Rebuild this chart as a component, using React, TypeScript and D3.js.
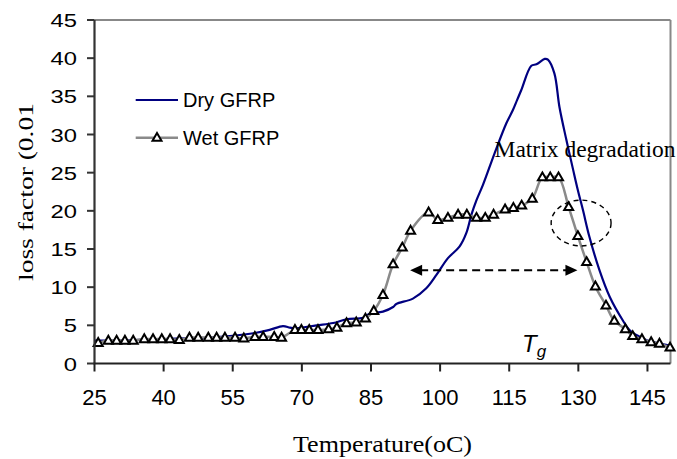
import React from "react";
import * as d3 from "d3";

const xTicks = [25, 40, 55, 70, 85, 100, 115, 130, 145];
const yTicks = [0, 5, 10, 15, 20, 25, 30, 35, 40, 45];

const dryX = [25, 30, 35, 40, 45, 50, 54.4, 59.8, 63.0, 65.9, 67.4, 68.5, 73.2, 76.8, 79.7, 83.3, 84.7, 87.6, 89.8, 90.5, 94.1, 97.0, 99.2, 101.7, 104.2, 105.7, 106.8, 107.9, 109.3, 111.8, 114.4, 115.8, 116.7, 117.6, 119.8, 120.9, 122.7, 123.4, 124.8, 125.9, 127.4, 128.9, 129.9, 131.0, 132.4, 134.6, 136.8, 139.6, 141.1, 143, 145, 147, 150];
const dryY = [3.0, 3.0, 3.1, 3.2, 3.3, 3.4, 3.6, 4.0, 4.4, 4.9, 4.7, 4.6, 5.0, 5.3, 5.8, 6.0, 6.5, 6.8, 7.4, 7.8, 8.5, 9.85, 11.6, 13.8, 15.3, 17.1, 19.5, 21.4, 23.4, 27.5, 31.5, 33.2, 34.5, 35.8, 39.0, 39.2, 39.9, 39.8, 38.0, 33.6, 29.3, 25.3, 22.7, 20.1, 16.6, 12.2, 8.75, 5.7, 4.4, 3.6, 3.0, 2.7, 2.3];

const wetX = [25.8, 28.0, 29.8, 31.6, 33.4, 35.8, 37.7, 39.6, 41.4, 43.4, 45.6, 47.5, 49.7, 51.5, 53.3, 55.5, 57.4, 59.8, 61.6, 64.0, 65.6, 68.5, 69.9, 71.6, 73.5, 75.8, 77.6, 79.7, 81.8, 83.8, 85.6, 87.6, 89.8, 91.8, 93.6, 97.5, 99.5, 101.7, 103.9, 105.8, 107.9, 109.8, 111.6, 114.1, 115.9, 117.7, 120.0, 122.2, 123.9, 125.7, 127.9, 129.9, 131.8, 133.7, 136.0, 137.8, 140.2, 141.8, 143.8, 145.8, 147.6, 149.9];
const wetY = [2.7, 3.0, 3.0, 3.0, 3.0, 3.2, 3.2, 3.2, 3.2, 3.1, 3.4, 3.4, 3.4, 3.4, 3.4, 3.4, 3.3, 3.5, 3.5, 3.5, 3.4, 4.4, 4.4, 4.4, 4.4, 4.5, 4.7, 5.3, 5.4, 5.9, 6.9, 9.0, 13.0, 15.2, 17.4, 19.8, 18.8, 19.1, 19.5, 19.5, 19.1, 19.1, 19.5, 20.2, 20.4, 20.7, 21.6, 24.4, 24.4, 24.4, 20.5, 16.7, 13.3, 10.1, 7.6, 5.6, 4.5, 3.6, 3.2, 2.8, 2.6, 2.1];

const seriesNames = ["Dry GFRP", "Wet GFRP"];
const arrowX = [93.5, 129.8];
const arrowY = 12.2;
const ellipseC = [130.6, 18.4];
const ellipseR = [6.5, 3.0];
const annoText = "Matrix degradation";
const annoPos = [111.8, 27.0];
const tgPos = [117.8, 1.5];

const W = 677;
const H = 459;
const x = d3.scaleLinear().domain([25, 150]).range([94.5, 670.5]);
const y = d3.scaleLinear().domain([0, 45]).range([363.5, 20]);

const tri = "M0,-4.8L4.5,3.1L-4.5,3.1Z";

export default function App() {
  const dry = dryX.map((v, i) => [v, dryY[i]] as [number, number]);
  const wet = wetX.map((v, i) => [v, wetY[i]] as [number, number]);
  const line = d3
    .line<[number, number]>()
    .x((d) => x(d[0]))
    .y((d) => y(d[1]))
    .curve(d3.curveCatmullRom.alpha(0.5));

  const ax0 = x(arrowX[0]);
  const ax1 = x(arrowX[1]);
  const ay = y(arrowY);

  return (
    <svg
      width={W}
      height={H}
      style={{ position: "absolute", left: 0, top: 0, background: "#fff" }}
    >
      <rect x={0} y={0} width={W} height={H} fill="#fff" />
      {/* frame */}
      <line x1={x(25)} x2={x(150)} y1={y(45)} y2={y(45)} stroke="#888" strokeWidth={2} />
      <line x1={x(150)} x2={x(150)} y1={y(45)} y2={y(0)} stroke="#888" strokeWidth={2} />

      {/* series */}
      <path d={line(dry) || ""} fill="none" stroke="#000080" strokeWidth={2.2} />
      <path d={line(wet) || ""} fill="none" stroke="#8a8a8a" strokeWidth={2.5} />
      {wet.map((d, i) => (
        <path
          key={i}
          d={tri}
          transform={`translate(${x(d[0])},${y(d[1])})`}
          fill="#fff"
          stroke="#000"
          strokeWidth={2}
          strokeLinejoin="miter"
        />
      ))}

      {/* axes */}
      <line x1={x(25)} x2={x(25)} y1={y(45)} y2={y(0)} stroke="#333" strokeWidth={2.2} />
      <line x1={x(25) - 1} x2={x(150)} y1={y(0)} y2={y(0)} stroke="#222" strokeWidth={2} />
      {yTicks.map((t) => (
        <g key={"y" + t}>
          <line x1={x(25) - 7.5} x2={x(25)} y1={y(t)} y2={y(t)} stroke="#333" strokeWidth={2} />
          <text
            transform={`translate(77,${y(t) + 7}) scale(1.28,1)`}
            textAnchor="end"
            fontFamily="Arial, Liberation Sans, sans-serif"
            fontSize={18.6}
            fill="#000"
          >
            {t}
          </text>
        </g>
      ))}
      {xTicks.map((t) => (
        <g key={"x" + t}>
          <line x1={x(t)} x2={x(t)} y1={y(0)} y2={y(0) + 8} stroke="#222" strokeWidth={2} />
          <text
            x={x(t)}
            y={y(0) + 41.5}
            textAnchor="middle"
            fontFamily="Arial, Liberation Sans, sans-serif"
            fontSize={22}
            fill="#000"
          >
            {t}
          </text>
        </g>
      ))}

      {/* axis titles */}
      <text
        transform="translate(33,281) rotate(-90)"
        fontFamily="Times New Roman, Liberation Serif, serif"
        fontSize={22}
        textLength={178}
        lengthAdjust="spacingAndGlyphs"
        fill="#000"
      >
        loss factor (0.01
      </text>
      <text
        x={293}
        y={451.5}
        fontFamily="Times New Roman, Liberation Serif, serif"
        fontSize={23.5}
        textLength={179}
        lengthAdjust="spacingAndGlyphs"
        fill="#000"
      >
        Temperature(oC)
      </text>

      {/* legend */}
      <line x1={135.7} x2={178} y1={100} y2={100} stroke="#000080" strokeWidth={2.2} />
      <text x={183} y={107.3} fontFamily="Arial, Liberation Sans, sans-serif" fontSize={20} fill="#000">
        {seriesNames[0]}
      </text>
      <line x1={135.7} x2={178} y1={137.7} y2={137.7} stroke="#8a8a8a" strokeWidth={2.5} />
      <path d={tri} transform="translate(157,137.7)" fill="#fff" stroke="#000" strokeWidth={2} />
      <text x={183} y={145} fontFamily="Arial, Liberation Sans, sans-serif" fontSize={20} fill="#000">
        {seriesNames[1]}
      </text>

      {/* annotations */}
      <text
        x={x(annoPos[0])}
        y={y(annoPos[1])}
        fontFamily="Times New Roman, Liberation Serif, serif"
        fontSize={22.5}
        textLength={181}
        lengthAdjust="spacingAndGlyphs"
        fill="#000"
      >
        {annoText}
      </text>
      <ellipse
        cx={x(ellipseC[0])}
        cy={y(ellipseC[1])}
        rx={x(ellipseC[0] + ellipseR[0]) - x(ellipseC[0])}
        ry={y(ellipseC[1] - ellipseR[1]) - y(ellipseC[1])}
        fill="none"
        stroke="#000"
        strokeWidth={1.4}
        strokeDasharray="5,4"
      />
      <line
        x1={ax0 + 10}
        x2={ax1 - 10}
        y1={ay}
        y2={ay}
        stroke="#000"
        strokeWidth={2}
        strokeDasharray="8,5"
      />
      <path d={`M${ax0},${ay}L${ax0 + 12},${ay - 5.5}L${ax0 + 12},${ay + 5.5}Z`} fill="#000" />
      <path d={`M${ax1},${ay}L${ax1 - 12},${ay - 5.5}L${ax1 - 12},${ay + 5.5}Z`} fill="#000" />
      <text
        x={x(tgPos[0])}
        y={y(tgPos[1])}
        fontFamily="Arial, Liberation Sans, sans-serif"
        fontStyle="italic"
        fontSize={24}
        fill="#000"
      >
        T
        <tspan fontSize={17} dy={5}>
          g
        </tspan>
      </text>
    </svg>
  );
}
